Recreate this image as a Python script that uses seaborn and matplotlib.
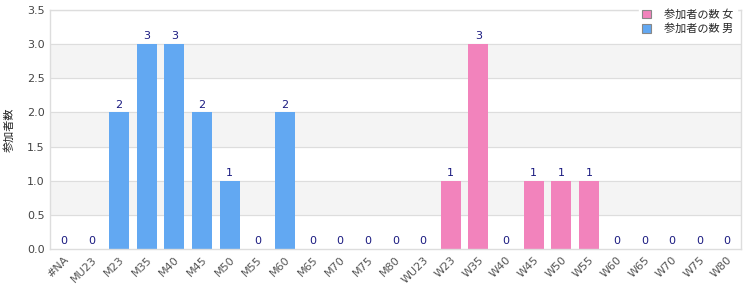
import matplotlib
matplotlib.use('Agg')
import numpy as np
import pandas as pd
import matplotlib.pyplot as plt
import seaborn as sns
from matplotlib.patches import Patch

categories = ['#NA', 'MU23', 'M23', 'M35', 'M40', 'M45', 'M50', 'M55', 'M60', 'M65',
              'M70', 'M75', 'M80', 'WU23', 'W23', 'W35', 'W40', 'W45', 'W50', 'W55',
              'W60', 'W65', 'W70', 'W75', 'W80']
counts = [0, 0, 2, 3, 3, 2, 1, 0, 2, 0,
          0, 0, 0, 0, 1, 3, 0, 1, 1, 1,
          0, 0, 0, 0, 0]
sex = ['男'] * 13 + ['女'] * 12
legend_labels = ['参加者の数 女', '参加者の数 男']
ylabel = '参加者数'

sns.set_theme(style='white')
plt.rcParams['font.family'] = ['Noto Sans CJK JP', 'DejaVu Sans']

df = pd.DataFrame({'cat': categories, 'n': counts, 'sex': sex})
pal = {'男': '#62a8f2', '女': '#f283bc'}

fig = plt.figure(figsize=(7.5, 3), dpi=100)
ax = fig.add_axes([50/750, 51/300, 691/750, 239/300])

# alternating bands
for lo in [0.5, 1.5, 2.5]:
    ax.axhspan(lo, lo + 0.5, color='#f4f4f4', zorder=0)
for y in np.arange(0.5, 3.51, 0.5):
    ax.axhline(y, color='#dddddd', lw=0.8, zorder=0.5)

sns.barplot(data=df, x='cat', y='n', hue='sex', palette=pal, dodge=False,
            width=0.72, legend=False, ax=ax, zorder=2, saturation=1,
            linewidth=0, edgecolor='none')

for i, v in enumerate(counts):
    ax.text(i, v + 0.04, str(v), ha='center', va='bottom', fontsize=8,
            color='#1a1a80', family='DejaVu Sans')

ax.set_ylim(0, 3.5)
ax.set_xlim(-0.5, len(categories) - 0.5)
ax.set_yticks(np.arange(0, 3.51, 0.5))
ax.set_yticklabels([f'{t:.1f}' for t in np.arange(0, 3.51, 0.5)],
                   fontsize=8, color='#444444', family='DejaVu Sans')
ax.set_xticks(range(len(categories)))
ax.set_xticklabels(categories, rotation=45, ha='right', rotation_mode='anchor',
                   fontsize=8, color='#555555', family='DejaVu Sans')
ax.tick_params(axis='both', length=0, pad=4)
ax.set_xlabel('')
ax.set_ylabel(ylabel, fontsize=8, color='#222222')
ax.yaxis.set_label_coords(-0.052, 0.5)

for s in ['left', 'bottom', 'top', 'right']:
    ax.spines[s].set_color('#dddddd')
    ax.spines[s].set_linewidth(1)

handles = [Patch(facecolor=pal['女'], edgecolor='#888888', lw=0.8),
           Patch(facecolor=pal['男'], edgecolor='#888888', lw=0.8)]
leg = fig.legend(handles, legend_labels, loc='upper right',
                 bbox_to_anchor=(0.99, 1.0), fontsize=8, frameon=True,
                 handlelength=0.8, handleheight=0.8, handletextpad=1.2,
                 labelspacing=0.35, borderpad=0.3)
leg.get_frame().set_edgecolor('white')
leg.get_frame().set_facecolor('white')
leg.get_frame().set_alpha(1)

fig.savefig('out.png', dpi=100)
